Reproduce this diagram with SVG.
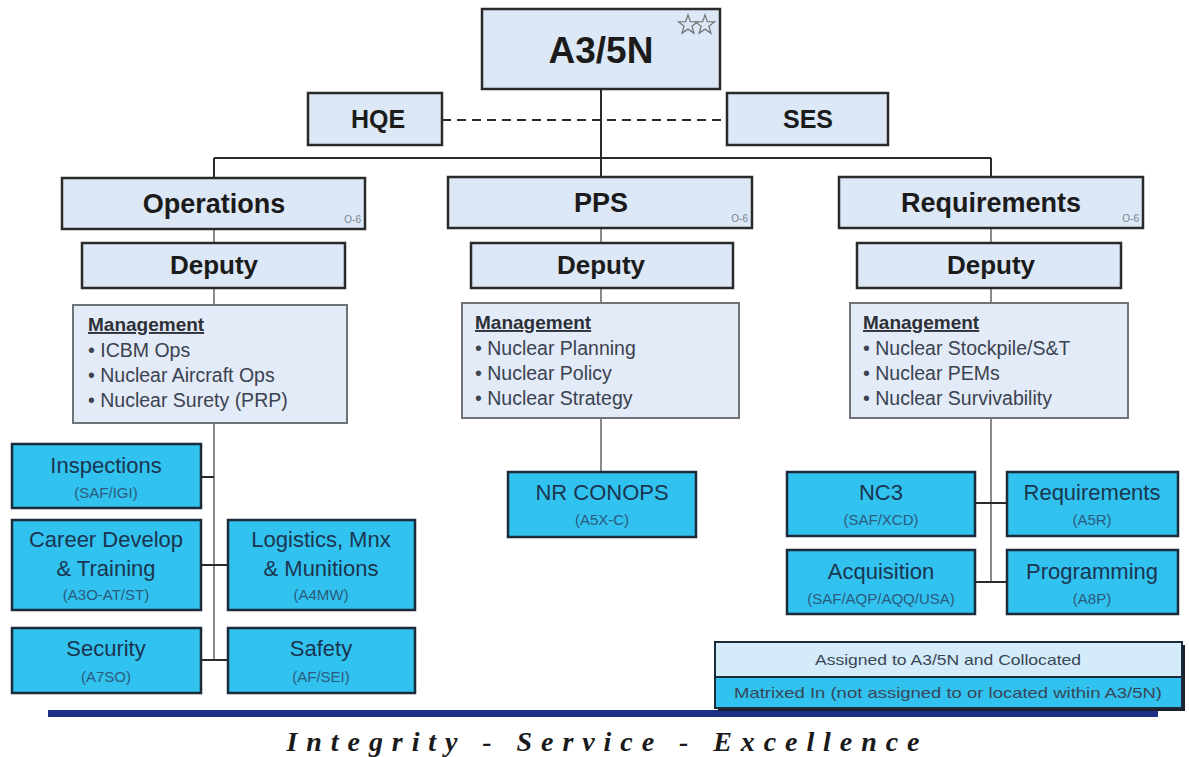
<svg xmlns="http://www.w3.org/2000/svg" width="1189" height="757" viewBox="0 0 1189 757">
<style>
text{font-family:"Liberation Sans",Arial,sans-serif;}
.lt{fill:#dde8f6;stroke:#2a2a2a;stroke-width:2.5;}
.mg{fill:#e2ebf7;stroke:#6f7378;stroke-width:2;}
.bl{fill:#31c2ef;stroke:#1b2b3a;stroke-width:2.5;}
.t1{font-weight:bold;fill:#1b1b1b;text-anchor:middle;}
.o6{font-size:10px;fill:#7a8490;text-anchor:end;}
.mh{font-size:19px;font-weight:bold;fill:#2e3038;text-decoration:underline;}
.mi{font-size:19.5px;fill:#3b4250;}
.bt{font-size:22px;fill:#1b3550;text-anchor:middle;}
.bs{font-size:15px;fill:#2c5a7e;text-anchor:middle;}
.ln{stroke:#2a2a2a;stroke-width:2;fill:none;}
.lg{stroke:#8a8a8a;stroke-width:2;fill:none;}
.lgt{font-size:15px;fill:#3a4656;text-anchor:middle;}
.motto{font-family:"Liberation Serif","Times New Roman",serif;font-size:28px;font-weight:bold;font-style:italic;fill:#1a1a1a;text-anchor:middle;}
</style>
<rect width="1189" height="757" fill="#ffffff"/>
<g id="connectors">
<line class="ln" x1="601" y1="89" x2="601" y2="177"/>
<line class="ln" x1="442" y1="120" x2="727" y2="120" stroke-dasharray="9,6"/>
<line class="ln" x1="214" y1="158" x2="991" y2="158"/>
<line class="ln" x1="214" y1="158" x2="214" y2="178"/>
<line class="ln" x1="991" y1="158" x2="991" y2="178"/>
<line class="lg" x1="214" y1="229" x2="214" y2="660"/>
<line class="lg" x1="601" y1="229" x2="601" y2="472"/>
<line class="lg" x1="991" y1="229" x2="991" y2="582"/>
<line class="ln" x1="201" y1="477" x2="214" y2="477"/>
<line class="ln" x1="201" y1="565" x2="228" y2="565"/>
<line class="ln" x1="201" y1="660" x2="228" y2="660"/>
<line class="ln" x1="975" y1="503" x2="1007" y2="503"/>
<line class="ln" x1="975" y1="582" x2="1007" y2="582"/>
</g>
<g id="a35n">
<rect class="lt" x="482" y="9" width="238" height="80"/>
<text class="t1" x="601" y="63" font-size="37">A3/5N</text>
<polygon points="688,15 690.4,21.7 697.5,21.9 691.9,26.3 693.9,33.1 688,29.1 682.1,33.1 684.1,26.3 678.5,21.9 685.6,21.7" fill="none" stroke="#777" stroke-width="1.3"/>
<polygon points="705,15 707.4,21.7 714.5,21.9 708.9,26.3 710.9,33.1 705,29.1 699.1,33.1 701.1,26.3 695.5,21.9 702.6,21.7" fill="none" stroke="#777" stroke-width="1.3"/>
</g>
<g id="hqe">
<rect class="lt" x="308" y="93" width="134" height="52"/>
<text class="t1" x="378" y="128" font-size="25">HQE</text>
</g>
<g id="ses">
<rect class="lt" x="727" y="93" width="161" height="52"/>
<text class="t1" x="808" y="128" font-size="25">SES</text>
</g>
<g id="operations">
<rect class="lt" x="62" y="178" width="303" height="51"/>
<text class="t1" x="214" y="213" font-size="27">Operations</text>
<text class="o6" x="361" y="223">O-6</text>
</g>
<g id="pps">
<rect class="lt" x="448" y="177" width="304" height="51"/>
<text class="t1" x="601" y="212" font-size="27">PPS</text>
<text class="o6" x="748" y="222">O-6</text>
</g>
<g id="requirements">
<rect class="lt" x="839" y="177" width="304" height="51"/>
<text class="t1" x="991" y="212" font-size="27">Requirements</text>
<text class="o6" x="1139" y="222">O-6</text>
</g>
<g id="ops-deputy">
<rect class="lt" x="82" y="243" width="263" height="45"/>
<text class="t1" x="214" y="274" font-size="26">Deputy</text>
</g>
<g id="pps-deputy">
<rect class="lt" x="471" y="243" width="262" height="45"/>
<text class="t1" x="601" y="274" font-size="26">Deputy</text>
</g>
<g id="req-deputy">
<rect class="lt" x="857" y="243" width="264" height="45"/>
<text class="t1" x="991" y="274" font-size="26">Deputy</text>
</g>
<g id="ops-mgmt">
<rect class="mg" x="73" y="305" width="274" height="118"/>
<text class="mh" x="88" y="331">Management</text>
<text class="mi" x="88" y="357">• ICBM Ops</text>
<text class="mi" x="88" y="382">• Nuclear Aircraft Ops</text>
<text class="mi" x="88" y="407">• Nuclear Surety (PRP)</text>
</g>
<g id="pps-mgmt">
<rect class="mg" x="462" y="303" width="277" height="115"/>
<text class="mh" x="475" y="329">Management</text>
<text class="mi" x="475" y="355">• Nuclear Planning</text>
<text class="mi" x="475" y="380">• Nuclear Policy</text>
<text class="mi" x="475" y="405">• Nuclear Strategy</text>
</g>
<g id="req-mgmt">
<rect class="mg" x="850" y="303" width="278" height="115"/>
<text class="mh" x="863" y="329">Management</text>
<text class="mi" x="863" y="355">• Nuclear Stockpile/S&amp;T</text>
<text class="mi" x="863" y="380">• Nuclear PEMs</text>
<text class="mi" x="863" y="405">• Nuclear Survivability</text>
</g>
<g id="inspections">
<rect class="bl" x="12" y="444" width="189" height="64"/>
<text class="bt" x="106" y="473">Inspections</text>
<text class="bs" x="106" y="498">(SAF/IGI)</text>
</g>
<g id="career">
<rect class="bl" x="12" y="520" width="189" height="90"/>
<text class="bt" x="106" y="547">Career Develop</text>
<text class="bt" x="106" y="576">&amp; Training</text>
<text class="bs" x="106" y="600">(A3O-AT/ST)</text>
</g>
<g id="logistics">
<rect class="bl" x="228" y="520" width="187" height="90"/>
<text class="bt" x="321" y="547">Logistics, Mnx</text>
<text class="bt" x="321" y="576">&amp; Munitions</text>
<text class="bs" x="321" y="600">(A4MW)</text>
</g>
<g id="security">
<rect class="bl" x="12" y="628" width="189" height="65"/>
<text class="bt" x="106" y="656">Security</text>
<text class="bs" x="106" y="682">(A7SO)</text>
</g>
<g id="safety">
<rect class="bl" x="228" y="628" width="187" height="65"/>
<text class="bt" x="321" y="656">Safety</text>
<text class="bs" x="321" y="682">(AF/SEI)</text>
</g>
<g id="nr-conops">
<rect class="bl" x="508" y="472" width="188" height="65"/>
<text class="bt" x="602" y="500">NR CONOPS</text>
<text class="bs" x="602" y="525">(A5X-C)</text>
</g>
<g id="nc3">
<rect class="bl" x="787" y="472" width="188" height="64"/>
<text class="bt" x="881" y="500">NC3</text>
<text class="bs" x="881" y="525">(SAF/XCD)</text>
</g>
<g id="req-a5r">
<rect class="bl" x="1007" y="472" width="171" height="64"/>
<text class="bt" x="1092" y="500">Requirements</text>
<text class="bs" x="1092" y="525">(A5R)</text>
</g>
<g id="acquisition">
<rect class="bl" x="787" y="550" width="188" height="64"/>
<text class="bt" x="881" y="579">Acquisition</text>
<text class="bs" x="881" y="604">(SAF/AQP/AQQ/USA)</text>
</g>
<g id="programming">
<rect class="bl" x="1007" y="550" width="171" height="64"/>
<text class="bt" x="1092" y="579">Programming</text>
<text class="bs" x="1092" y="604">(A8P)</text>
</g>
<g id="footer-bar">
<rect x="48" y="710" width="1110" height="7" fill="#1e2f88"/>
</g>
<g id="legend">
<rect x="718" y="645" width="467" height="66" fill="#1a2030"/>
<rect x="715" y="642" width="467" height="35" fill="#d4ecf9" stroke="#1b2b3a" stroke-width="2"/>
<rect x="715" y="677" width="467" height="31" fill="#31c2ef" stroke="#1b2b3a" stroke-width="2"/>
<text class="lgt" x="948" y="665" textLength="266" lengthAdjust="spacingAndGlyphs">Assigned to A3/5N and Collocated</text>
<text class="lgt" x="948" y="698" textLength="428" lengthAdjust="spacingAndGlyphs">Matrixed In (not assigned to or located within A3/5N)</text>
</g>
<g id="motto">
<text class="motto" x="603" y="751" textLength="633" lengthAdjust="spacing">Integrity - Service - Excellence</text>
</g>
</svg>
